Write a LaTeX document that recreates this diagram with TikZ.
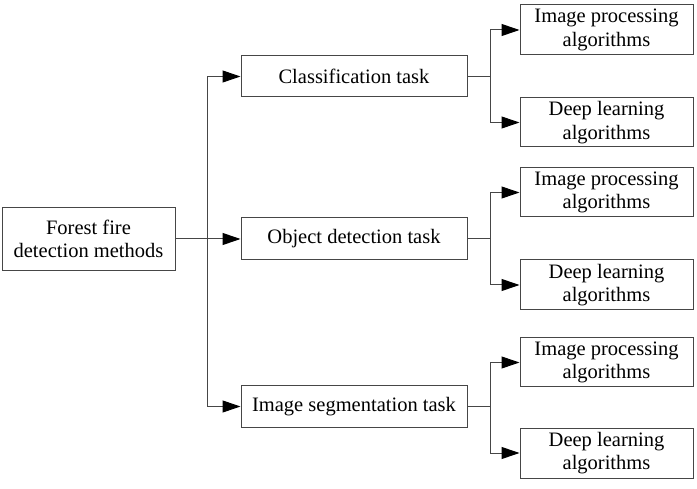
\documentclass[tikz,border=0pt]{standalone}
\usepackage{fontspec}
\setmainfont{Liberation Serif}
\usetikzlibrary{arrows.meta}
\definecolor{lc}{RGB}{70,70,70}
\begin{document}
\begin{tikzpicture}[x=1pt,y=-1pt,
  box/.style={draw=lc,line width=1pt,inner sep=0pt,align=center,font=\fontsize{20.5}{23.5}\selectfont},
  conn/.style={draw=lc,line width=1pt,line cap=rect},
  arr/.style={conn,-{Triangle[length=18pt,width=12pt,fill=black,color=black]}}]
\useasboundingbox (0,0) rectangle (697,489);
\node[box,minimum width=173pt,minimum height=63pt] (root) at (88.5,239) {Forest fire\\detection methods};
\node[box,minimum width=226pt,minimum height=41pt] (c) at (354,76.5) {Classification task};
\node[box,minimum width=226pt,minimum height=42pt] (o) at (354,239) {Object detection task};
\node[box,minimum width=226pt,minimum height=41pt] (s) at (354,406.5) {Image segmentation task};
\node[box,minimum width=173pt,minimum height=50pt] (c1) at (606.5,30) {Image processing\\algorithms};
\node[box,minimum width=173pt,minimum height=49pt] (c2) at (606.5,122.5) {Deep learning\\algorithms};
\node[box,minimum width=173pt,minimum height=49pt] (o1) at (606.5,192.5) {Image processing\\algorithms};
\node[box,minimum width=173pt,minimum height=50pt] (o2) at (606.5,285) {Deep learning\\algorithms};
\node[box,minimum width=173pt,minimum height=49pt] (s1) at (606.5,362.5) {Image processing\\algorithms};
\node[box,minimum width=173pt,minimum height=50pt] (s2) at (606.5,453) {Deep learning\\algorithms};
\coordinate (t) at (207,239);
\coordinate (ct) at (490,76.5);
\coordinate (ot) at (490,239);
\coordinate (st) at (490,406.5);
\draw[conn] (root.east) -- (t);
\draw[arr] (t) |- (c.west);
\draw[arr] (t) -- (o.west);
\draw[arr] (t) |- (s.west);
\draw[conn] (c.east) -- (ct);
\draw[arr] (ct) |- (c1.west);
\draw[arr] (ct) |- (c2.west);
\draw[conn] (o.east) -- (ot);
\draw[arr] (ot) |- (o1.west);
\draw[arr] (ot) |- (o2.west);
\draw[conn] (s.east) -- (st);
\draw[arr] (st) |- (s1.west);
\draw[arr] (st) |- (s2.west);
\end{tikzpicture}
\end{document}
